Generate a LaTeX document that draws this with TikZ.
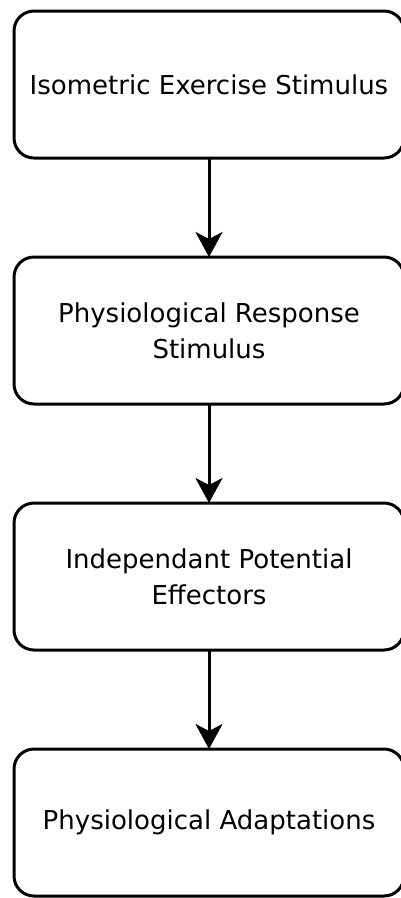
\documentclass[tikz,border=0pt]{standalone}
\usepackage{fontspec}
\setmainfont{DejaVu Sans}
\usetikzlibrary{arrows.meta}
\begin{document}
\begin{tikzpicture}[x=1pt,y=-1pt,
  stagebox/.style={draw=black, line width=3pt, rounded corners=20pt, minimum width=390pt, minimum height=147pt, inner sep=0pt, outer sep=0pt, align=center, font=\fontsize{26}{36}\selectfont},
  flowarrow/.style={line width=3pt, -{Stealth[length=25pt,width=27pt,inset=7pt]}}]
\useasboundingbox (0,0) rectangle (400,898);
\node[stagebox] (a) at (209,84.5) {Isometric Exercise Stimulus};
\node[stagebox] (b) at (209,330.5) {Physiological Response\\Stimulus};
\node[stagebox] (c) at (209,576.5) {Independant Potential\\Effectors};
\node[stagebox] (d) at (209,822.5) {Physiological Adaptations};
\draw[flowarrow] (a.south) -- (b.north);
\draw[flowarrow] (b.south) -- (c.north);
\draw[flowarrow] (c.south) -- (d.north);
\end{tikzpicture}
\end{document}
